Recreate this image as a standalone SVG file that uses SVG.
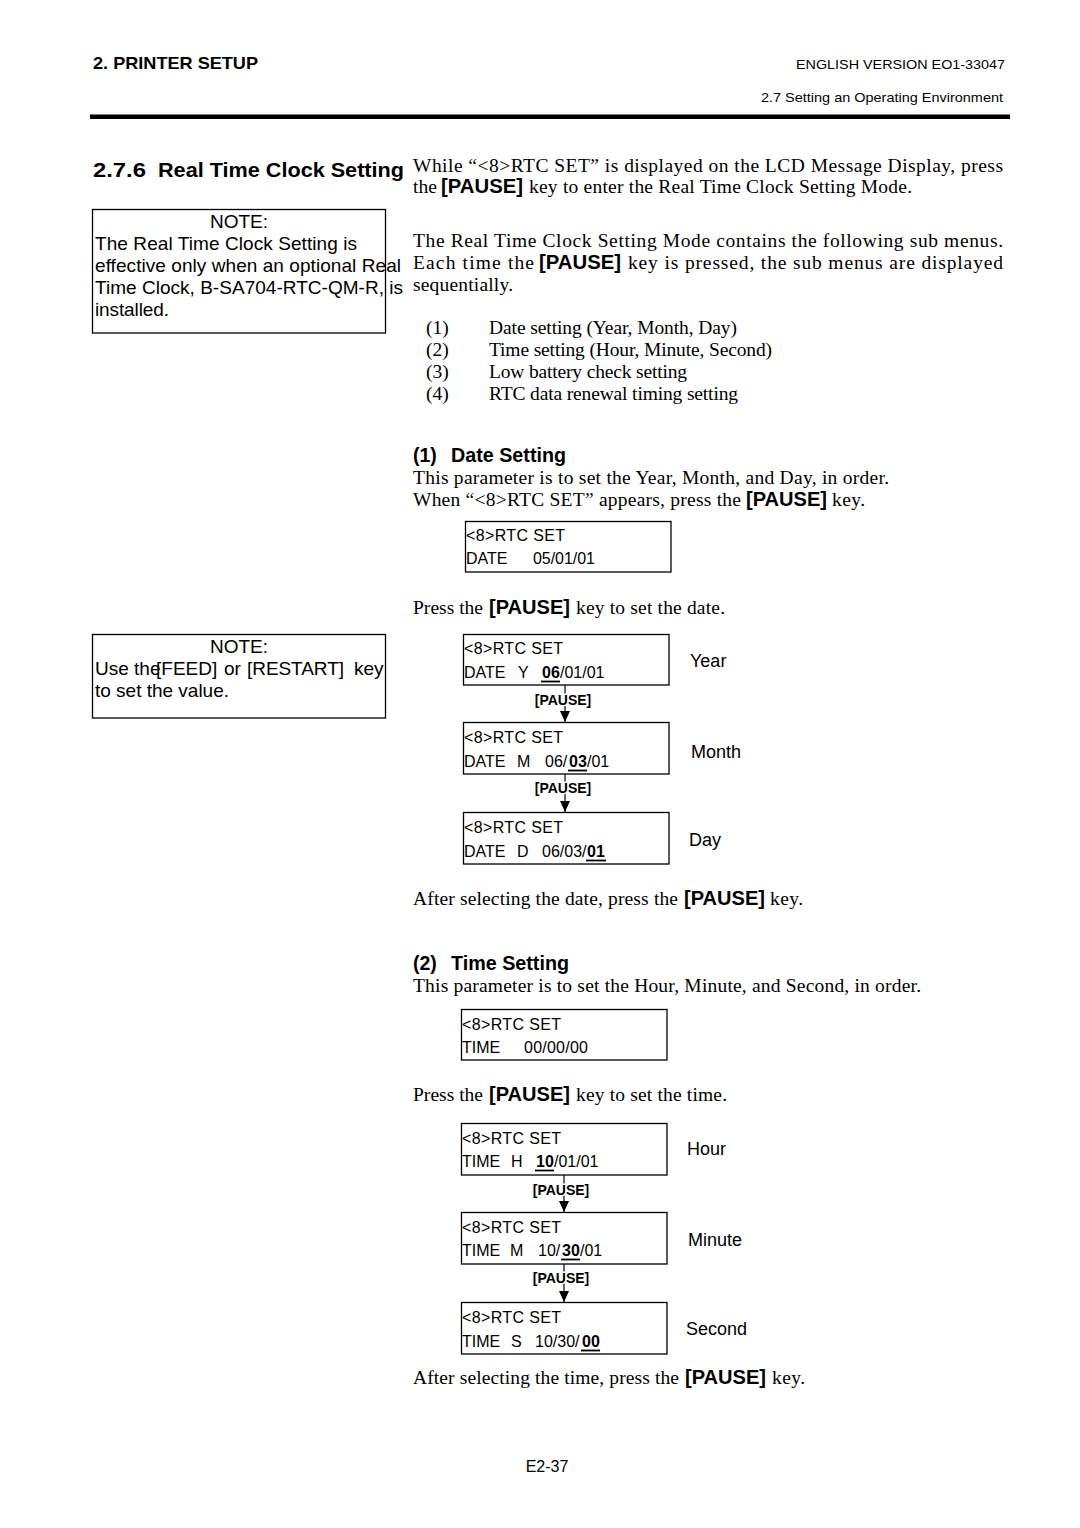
<svg xmlns="http://www.w3.org/2000/svg" width="1080" height="1528" viewBox="0 0 1080 1528">
<style>
text{fill:#000}
.tm{font-family:"Liberation Serif","Times New Roman",serif;font-size:19.5px}
.ar{font-family:"Liberation Sans",Arial,sans-serif;font-size:19px}
.kb{font-family:"Liberation Sans",Arial,sans-serif;font-size:19.5px;font-weight:bold}
.hd{font-family:"Liberation Sans",Arial,sans-serif;font-weight:bold}
.sm{font-family:"Liberation Sans",Arial,sans-serif;font-size:13.5px}
.lcd{font-family:"Liberation Sans",Arial,sans-serif;font-size:16px}
.lb{font-family:"Liberation Sans",Arial,sans-serif;font-size:16px;font-weight:bold}
.pk{font-family:"Liberation Sans",Arial,sans-serif;font-size:14px;font-weight:bold}
.lab{font-family:"Liberation Sans",Arial,sans-serif;font-size:18px}
.box{fill:#fff;stroke:#000;stroke-width:1.3}
.ul{stroke:#000;stroke-width:1.8}
.con{stroke:#000;stroke-width:1.2;fill:none}
</style>
<defs>
<marker id="ah" markerUnits="userSpaceOnUse" markerWidth="11" markerHeight="10" refX="11" refY="5" orient="auto" viewBox="0 0 11 10">
<path d="M0,0 L11,5 L0,10 Z" fill="#000"/>
</marker>
</defs>
<rect width="1080" height="1528" fill="#fff"/>

<g id="header">
<text class="hd" x="93" y="69" font-size="17" textLength="165" lengthAdjust="spacingAndGlyphs">2. PRINTER SETUP</text>
<text class="sm" x="796" y="69" font-size="14" textLength="209" lengthAdjust="spacingAndGlyphs">ENGLISH VERSION EO1-33047</text>
<text class="sm" x="761" y="102" font-size="14" textLength="242" lengthAdjust="spacingAndGlyphs">2.7 Setting an Operating Environment</text>
<rect x="90" y="114.5" width="920" height="4.5" fill="#000"/>
</g>

<g id="title">
<text class="hd" x="93" y="177" font-size="21" textLength="53" lengthAdjust="spacingAndGlyphs">2.7.6</text>
<text class="hd" x="158" y="177" font-size="21" textLength="246" lengthAdjust="spacingAndGlyphs">Real Time Clock Setting</text>
</g>

<g id="note1">
<rect class="box" x="92.5" y="209.5" width="293" height="123.5" fill="none"/>
<text class="ar" x="239" y="228" text-anchor="middle">NOTE:</text>
<text class="ar" x="95" y="250" textLength="262" lengthAdjust="spacing">The Real Time Clock Setting is</text>
<text class="ar" x="95" y="272" textLength="306" lengthAdjust="spacing">effective only when an optional Real</text>
<text class="ar" x="95" y="294" textLength="308" lengthAdjust="spacing">Time Clock, B-SA704-RTC-QM-R, is</text>
<text class="ar" x="95" y="316" textLength="74" lengthAdjust="spacing">installed.</text>
</g>

<g id="intro">
<text class="tm" x="413" y="172" textLength="590" lengthAdjust="spacing">While “&lt;8&gt;RTC SET” is displayed on the LCD Message Display, press</text>
<text class="tm" x="413" y="193" textLength="24" lengthAdjust="spacing">the</text>
<text class="kb" x="441" y="193" textLength="82" lengthAdjust="spacingAndGlyphs">[PAUSE]</text>
<text class="tm" x="529" y="193" textLength="383" lengthAdjust="spacing">key to enter the Real Time Clock Setting Mode.</text>
<text class="tm" x="413" y="247" textLength="590" lengthAdjust="spacing">The Real Time Clock Setting Mode contains the following sub menus.</text>
<text class="tm" x="413" y="269" textLength="121" lengthAdjust="spacing">Each time the</text>
<text class="kb" x="539" y="269" textLength="82" lengthAdjust="spacingAndGlyphs">[PAUSE]</text>
<text class="tm" x="628" y="269" textLength="375" lengthAdjust="spacing">key is pressed, the sub menus are displayed</text>
<text class="tm" x="413" y="291" textLength="100" lengthAdjust="spacing">sequentially.</text>
</g>

<g id="submenus">
<text class="tm" x="426" y="334" font-size="18.5">(1)</text>
<text class="tm" x="489" y="334" font-size="18.5" textLength="248" lengthAdjust="spacing">Date setting (Year, Month, Day)</text>
<text class="tm" x="426" y="356" font-size="18.5">(2)</text>
<text class="tm" x="489" y="356" font-size="18.5" textLength="283" lengthAdjust="spacing">Time setting (Hour, Minute, Second)</text>
<text class="tm" x="426" y="378" font-size="18.5">(3)</text>
<text class="tm" x="489" y="378" font-size="18.5" textLength="198" lengthAdjust="spacing">Low battery check setting</text>
<text class="tm" x="426" y="400" font-size="18.5">(4)</text>
<text class="tm" x="489" y="400" font-size="18.5" textLength="249" lengthAdjust="spacing">RTC data renewal timing setting</text>
</g>

<g id="date-section">
<text class="hd" x="413" y="462" font-size="19.5">(1)</text>
<text class="hd" x="451" y="462" font-size="19.5" textLength="115" lengthAdjust="spacingAndGlyphs">Date Setting</text>
<text class="tm" x="413" y="484" textLength="476" lengthAdjust="spacing">This parameter is to set the Year, Month, and Day, in order.</text>
<text class="tm" x="413" y="506" textLength="328" lengthAdjust="spacing">When “&lt;8&gt;RTC SET” appears, press the</text>
<text class="kb" x="746" y="506" textLength="81" lengthAdjust="spacingAndGlyphs">[PAUSE]</text>
<text class="tm" x="832" y="506" textLength="33" lengthAdjust="spacing">key.</text>
<text class="tm" x="413" y="614" textLength="70" lengthAdjust="spacing">Press the</text>
<text class="kb" x="489" y="614" textLength="81" lengthAdjust="spacingAndGlyphs">[PAUSE]</text>
<text class="tm" x="576" y="614" textLength="149" lengthAdjust="spacing">key to set the date.</text>
<text class="tm" x="413" y="905" textLength="265" lengthAdjust="spacing">After selecting the date, press the</text>
<text class="kb" x="684" y="905" textLength="81" lengthAdjust="spacingAndGlyphs">[PAUSE]</text>
<text class="tm" x="770" y="905" textLength="33" lengthAdjust="spacing">key.</text>
</g>

<g id="lcd-date">
<rect class="box" x="465.5" y="521.5" width="205.5" height="50.5"/>
<text class="lcd" x="466" y="541" textLength="99" lengthAdjust="spacing">&lt;8&gt;RTC SET</text>
<text class="lcd" x="466" y="564">DATE</text>
<text class="lcd" x="533" y="564" textLength="62" lengthAdjust="spacing">05/01/01</text>
</g>

<g id="note2">
<rect class="box" x="92.5" y="634.5" width="293" height="83.5" fill="none"/>
<text class="ar" x="239" y="653" text-anchor="middle">NOTE:</text>
<text class="ar" x="95" y="675">Use the</text>
<text class="ar" x="156" y="675">[FEED]</text>
<text class="ar" x="224" y="675">or</text>
<text class="ar" x="247" y="675" textLength="97" lengthAdjust="spacing">[RESTART]</text>
<text class="ar" x="354" y="675">key</text>
<text class="ar" x="95" y="697" textLength="134" lengthAdjust="spacing">to set the value.</text>
</g>

<g id="connectors">
<line class="con" x1="565" y1="685" x2="565" y2="722" marker-end="url(#ah)"/>
<line class="con" x1="565" y1="774" x2="565" y2="812" marker-end="url(#ah)"/>
<line class="con" x1="564" y1="1175" x2="564" y2="1212" marker-end="url(#ah)"/>
<line class="con" x1="564" y1="1264" x2="564" y2="1302" marker-end="url(#ah)"/>
</g>

<g id="pause-labels">
<text class="pk" x="563" y="705" text-anchor="middle" stroke="#fff" stroke-width="3" paint-order="stroke">[PAUSE]</text>
<text class="pk" x="563" y="793" text-anchor="middle" stroke="#fff" stroke-width="3" paint-order="stroke">[PAUSE]</text>
<text class="pk" x="561" y="1195" text-anchor="middle" stroke="#fff" stroke-width="3" paint-order="stroke">[PAUSE]</text>
<text class="pk" x="561" y="1283" text-anchor="middle" stroke="#fff" stroke-width="3" paint-order="stroke">[PAUSE]</text>
</g>

<g id="lcd-year">
<rect class="box" x="463.5" y="634.5" width="205.5" height="50.5"/>
<text class="lcd" x="464" y="654" textLength="99" lengthAdjust="spacing">&lt;8&gt;RTC SET</text>
<text class="lcd" x="464" y="678">DATE</text>
<text class="lcd" x="518" y="678">Y</text>
<text class="lb" x="542" y="678">06</text>
<line class="ul" x1="541" y1="681.5" x2="560" y2="681.5"/>
<text class="lcd" x="560" y="678">/01/01</text>
<text class="lab" x="690" y="667">Year</text>
</g>

<g id="lcd-month">
<rect class="box" x="463.5" y="722.5" width="205.5" height="51.5"/>
<text class="lcd" x="464" y="743" textLength="99" lengthAdjust="spacing">&lt;8&gt;RTC SET</text>
<text class="lcd" x="464" y="767">DATE</text>
<text class="lcd" x="517" y="767">M</text>
<text class="lcd" x="545" y="767">06/</text>
<text class="lb" x="569" y="767">03</text>
<line class="ul" x1="568" y1="770.5" x2="587" y2="770.5"/>
<text class="lcd" x="587" y="767">/01</text>
<text class="lab" x="691" y="758">Month</text>
</g>

<g id="lcd-day">
<rect class="box" x="463.5" y="812.5" width="205.5" height="51.5"/>
<text class="lcd" x="464" y="833" textLength="99" lengthAdjust="spacing">&lt;8&gt;RTC SET</text>
<text class="lcd" x="464" y="857">DATE</text>
<text class="lcd" x="517" y="857">D</text>
<text class="lcd" x="542" y="857">06/03/</text>
<text class="lb" x="587" y="857">01</text>
<line class="ul" x1="586" y1="860.5" x2="606" y2="860.5"/>
<text class="lab" x="689" y="846">Day</text>
</g>

<g id="time-section">
<text class="hd" x="413" y="970" font-size="19.5">(2)</text>
<text class="hd" x="451" y="970" font-size="19.5" textLength="118" lengthAdjust="spacingAndGlyphs">Time Setting</text>
<text class="tm" x="413" y="992" textLength="508" lengthAdjust="spacing">This parameter is to set the Hour, Minute, and Second, in order.</text>
<text class="tm" x="413" y="1101" textLength="70" lengthAdjust="spacing">Press the</text>
<text class="kb" x="489" y="1101" textLength="81" lengthAdjust="spacingAndGlyphs">[PAUSE]</text>
<text class="tm" x="576" y="1101" textLength="151" lengthAdjust="spacing">key to set the time.</text>
<text class="tm" x="413" y="1384" textLength="266" lengthAdjust="spacing">After selecting the time, press the</text>
<text class="kb" x="685" y="1384" textLength="81" lengthAdjust="spacingAndGlyphs">[PAUSE]</text>
<text class="tm" x="772" y="1384" textLength="33" lengthAdjust="spacing">key.</text>
</g>

<g id="lcd-time">
<rect class="box" x="461.5" y="1009.5" width="205.5" height="50.5"/>
<text class="lcd" x="462" y="1030" textLength="99" lengthAdjust="spacing">&lt;8&gt;RTC SET</text>
<text class="lcd" x="462" y="1053">TIME</text>
<text class="lcd" x="524" y="1053" textLength="64" lengthAdjust="spacing">00/00/00</text>
</g>

<g id="lcd-hour">
<rect class="box" x="461.5" y="1123.5" width="205.5" height="51.5"/>
<text class="lcd" x="462" y="1144" textLength="99" lengthAdjust="spacing">&lt;8&gt;RTC SET</text>
<text class="lcd" x="462" y="1167">TIME</text>
<text class="lcd" x="511" y="1167">H</text>
<text class="lb" x="536" y="1167">10</text>
<line class="ul" x1="535" y1="1170.5" x2="554" y2="1170.5"/>
<text class="lcd" x="554" y="1167">/01/01</text>
<text class="lab" x="687" y="1155">Hour</text>
</g>

<g id="lcd-minute">
<rect class="box" x="461.5" y="1212.5" width="205.5" height="51.5"/>
<text class="lcd" x="462" y="1233" textLength="99" lengthAdjust="spacing">&lt;8&gt;RTC SET</text>
<text class="lcd" x="462" y="1256">TIME</text>
<text class="lcd" x="510" y="1256">M</text>
<text class="lcd" x="538" y="1256">10/</text>
<text class="lb" x="562" y="1256">30</text>
<line class="ul" x1="561" y1="1259.5" x2="580" y2="1259.5"/>
<text class="lcd" x="580" y="1256">/01</text>
<text class="lab" x="688" y="1246">Minute</text>
</g>

<g id="lcd-second">
<rect class="box" x="461.5" y="1302.5" width="205.5" height="51.5"/>
<text class="lcd" x="462" y="1323" textLength="99" lengthAdjust="spacing">&lt;8&gt;RTC SET</text>
<text class="lcd" x="462" y="1347">TIME</text>
<text class="lcd" x="511" y="1347">S</text>
<text class="lcd" x="535" y="1347">10/30/</text>
<text class="lb" x="582" y="1347">00</text>
<line class="ul" x1="581" y1="1350.5" x2="600" y2="1350.5"/>
<text class="lab" x="686" y="1335">Second</text>
</g>

<g id="footer">
<text class="lcd" x="547" y="1472" text-anchor="middle">E2-37</text>
</g>
</svg>
